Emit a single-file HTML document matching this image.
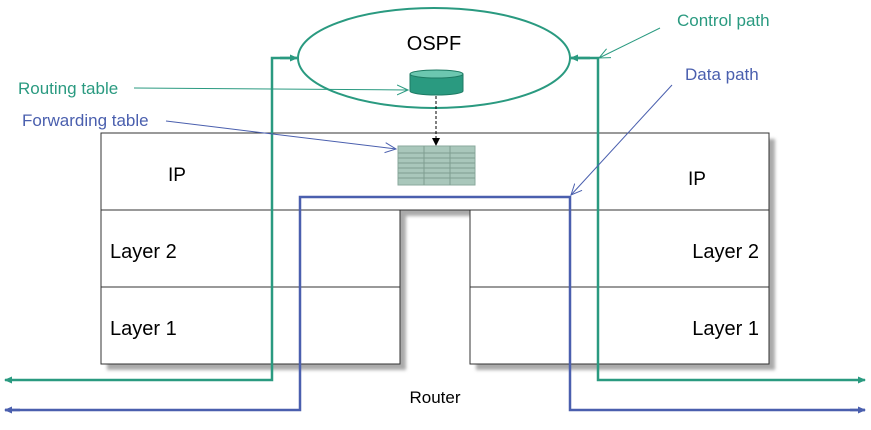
<!DOCTYPE html>
<html><head><meta charset="utf-8"><style>
body{margin:0;background:#fff;width:871px;height:425px;overflow:hidden}
text{font-family:"Liberation Sans",Arial,sans-serif}
</style></head><body>
<svg width="871" height="425" viewBox="0 0 871 425">
<defs>
<filter id="blur" x="-5%" y="-5%" width="110%" height="110%"><feGaussianBlur stdDeviation="1.5"/></filter>
<marker id="ag" markerWidth="8" markerHeight="8" refX="7" refY="4" orient="auto" markerUnits="userSpaceOnUse"><path d="M0,0.5 L8,4 L0,7.5 Z" fill="#2a9a80"/></marker>
<marker id="ab" markerWidth="8" markerHeight="8" refX="7" refY="4" orient="auto" markerUnits="userSpaceOnUse"><path d="M0,0.5 L8,4 L0,7.5 Z" fill="#4a5fae"/></marker>
<marker id="og" markerWidth="12" markerHeight="12" refX="11" refY="6" orient="auto" markerUnits="userSpaceOnUse"><path d="M0,1 L11,6 L0,11" fill="none" stroke="#2a9a80" stroke-width="1"/></marker>
<marker id="ob" markerWidth="12" markerHeight="12" refX="11" refY="6" orient="auto" markerUnits="userSpaceOnUse"><path d="M0,1 L11,6 L0,11" fill="none" stroke="#4a5fae" stroke-width="1"/></marker>
<marker id="ak" markerWidth="8" markerHeight="8" refX="7" refY="4" orient="auto" markerUnits="userSpaceOnUse"><path d="M0,0 L8,4 L0,8 Z" fill="#000"/></marker>
</defs>
<g filter="url(#blur)">
<rect x="107" y="139" width="668" height="77" fill="#aaa"/>
<rect x="107" y="216" width="299" height="154" fill="#aaa"/>
<rect x="476" y="216" width="299" height="154" fill="#aaa"/>
</g>
<rect x="101" y="133" width="668" height="77" fill="#fff" stroke="#333" stroke-width="1"/>
<rect x="101" y="210" width="299" height="77" fill="#fff" stroke="#333" stroke-width="1"/>
<rect x="101" y="287" width="299" height="77" fill="#fff" stroke="#333" stroke-width="1"/>
<rect x="470" y="210" width="299" height="77" fill="#fff" stroke="#333" stroke-width="1"/>
<rect x="470" y="287" width="299" height="77" fill="#fff" stroke="#333" stroke-width="1"/>
<text x="168" y="181" font-size="19">IP</text>
<text x="688" y="185" font-size="19">IP</text>
<text x="110" y="258" font-size="20">Layer 2</text>
<text x="110" y="335" font-size="20">Layer 1</text>
<text x="759" y="258" font-size="20" text-anchor="end">Layer 2</text>
<text x="759" y="335" font-size="20" text-anchor="end">Layer 1</text>
<text x="435" y="403" font-size="17" text-anchor="middle">Router</text>
<ellipse cx="434" cy="58" rx="136" ry="50" fill="#fff" stroke="#2a9a80" stroke-width="2"/>
<text x="434" y="50" font-size="20" text-anchor="middle">OSPF</text>
<path d="M410,74 L410,91 A26.5,4 0 0 0 463,91 L463,74 Z" fill="#2a9a80" stroke="#1d7a63" stroke-width="1"/>
<ellipse cx="436.5" cy="74" rx="26.5" ry="4" fill="#6cc7b0" stroke="#1d7a63" stroke-width="1"/>
<line x1="436" y1="96" x2="436" y2="145" stroke="#000" stroke-width="1" stroke-dasharray="3,2" marker-end="url(#ak)"/>
<rect x="398" y="146" width="77" height="39" fill="#a9c7bb" stroke="#8aaa9c"/>
<g stroke="#7e9e90" stroke-width="1">
<line x1="424" y1="146" x2="424" y2="185"/><line x1="450" y1="146" x2="450" y2="185"/>
<line x1="398" y1="153" x2="475" y2="153"/><line x1="398" y1="158" x2="475" y2="158"/>
<line x1="398" y1="163" x2="475" y2="163"/><line x1="398" y1="168" x2="475" y2="168"/>
<line x1="398" y1="173" x2="475" y2="173"/><line x1="398" y1="178" x2="475" y2="178"/>
</g>
<path d="M297,58 L272,58 L272,380 L5,380" fill="none" stroke="#2a9a80" stroke-width="2.5" marker-end="url(#ag)"/>
<line x1="280" y1="58" x2="297" y2="58" stroke="#2a9a80" stroke-width="2.5" marker-end="url(#ag)"/>
<path d="M571,58 L598,58 L598,380 L865,380" fill="none" stroke="#2a9a80" stroke-width="2.5" marker-end="url(#ag)"/>
<line x1="590" y1="58" x2="571" y2="58" stroke="#2a9a80" stroke-width="2.5" marker-end="url(#ag)"/>
<path d="M5,410 L300,410 L300,197 L570,197 L570,410 L865,410" fill="none" stroke="#4a5fae" stroke-width="2.5"/>
<line x1="20" y1="410" x2="5" y2="410" stroke="#4a5fae" stroke-width="2.5" marker-end="url(#ab)"/>
<line x1="850" y1="410" x2="865" y2="410" stroke="#4a5fae" stroke-width="2.5" marker-end="url(#ab)"/>
<text x="677" y="26" font-size="17" fill="#2a9a80">Control path</text>
<line x1="660" y1="28" x2="599" y2="58" stroke="#2a9a80" stroke-width="1" marker-end="url(#og)"/>
<text x="685" y="80" font-size="17" fill="#4a5fae">Data path</text>
<line x1="672" y1="85" x2="571" y2="195" stroke="#4a5fae" stroke-width="1" marker-end="url(#ob)"/>
<text x="18" y="94" font-size="17" fill="#2a9a80">Routing table</text>
<line x1="134" y1="88" x2="408" y2="90" stroke="#2a9a80" stroke-width="1" marker-end="url(#og)"/>
<text x="22" y="126" font-size="17" fill="#4a5fae">Forwarding table</text>
<line x1="166" y1="121" x2="396" y2="149" stroke="#4a5fae" stroke-width="1" marker-end="url(#ob)"/>
</svg>
</body></html>
